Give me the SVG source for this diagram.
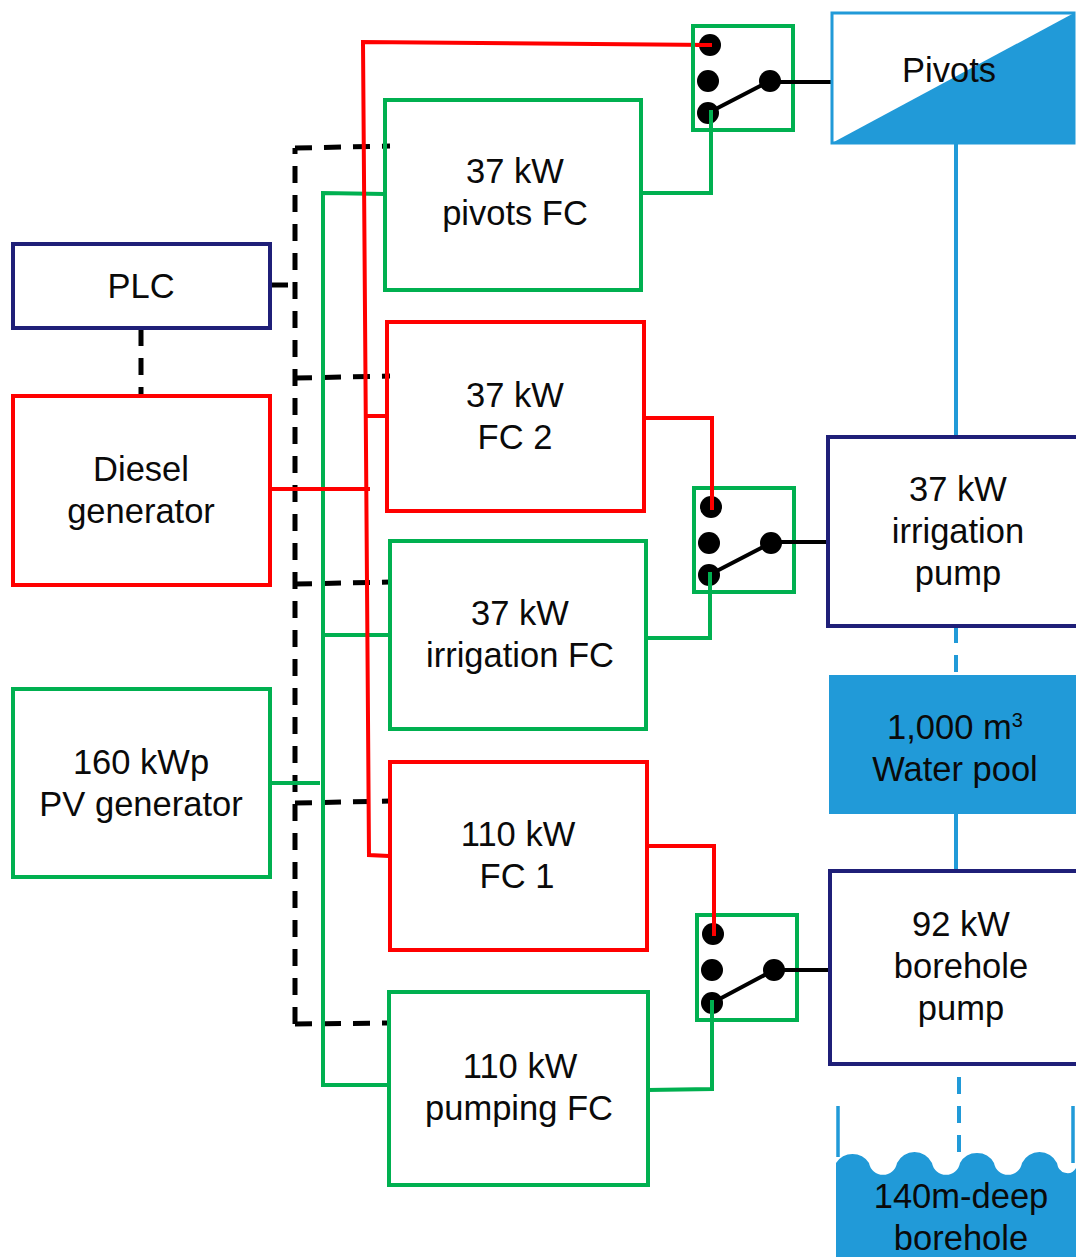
<svg xmlns="http://www.w3.org/2000/svg" width="1076" height="1257" viewBox="0 0 1076 1257">
<style>
text{font-family:"Liberation Sans",Arial,sans-serif;font-size:34.5px;fill:#0a0a0a;text-anchor:middle}
.g{fill:none;stroke:#00b050;stroke-width:4;stroke-linejoin:miter}
.gc{fill:none;stroke:#00b050;stroke-width:4}
.r{fill:none;stroke:#ff0000;stroke-width:4}
.n{fill:none;stroke:#1f1f78;stroke-width:4}
.b{fill:none;stroke:#219ad8;stroke-width:4}
.k{fill:none;stroke:#000;stroke-width:4}
.d{fill:none;stroke:#000;stroke-width:5;stroke-dasharray:17 12}
.bd{fill:none;stroke:#219ad8;stroke-width:4;stroke-dasharray:17 12}
.f{fill:#219ad8}
</style>
<rect width="1076" height="1257" fill="#fff"/>
<g id="connectors">
<path class="d" d="M295 1024V148"/>
<path class="d" d="M295 148L390 146"/>
<path class="d" d="M295 378L390 376"/>
<path class="d" d="M295 584L390 582"/>
<path class="d" d="M295 803L390 801"/>
<path class="d" d="M295 1024L390 1023"/>
<path class="d" d="M271 285H295"/>
<path class="d" d="M141 329V396"/>
<path class="gc" d="M385 194L323 193V1085H388"/>
<path class="gc" d="M321 635H390"/>
<path class="gc" d="M270 783H320"/>
<path class="r" d="M712 45L363 42L369 855L389 856"/>
<path class="r" d="M364 416H386"/>
<path class="r" d="M270 489H370"/>
<path class="b" d="M956 144V437"/>
<path class="bd" d="M956 626V675"/>
<path class="b" d="M956 814V871"/>
<path class="bd" d="M959 1077V1155"/>
</g>
<g id="sw1">
<rect class="g" x="693" y="26" width="100" height="104"/>
<path class="k" d="M708 113L770 81M770 82H831"/>
<circle cx="710" cy="45" r="11"/><circle cx="708" cy="81" r="11"/><circle cx="708" cy="113" r="11"/><circle cx="770" cy="81" r="11"/>
<path class="r" d="M696 45H712"/>
<path class="gc" d="M643 193H711V110"/>
</g>
<g id="sw2">
<rect class="g" x="694" y="488" width="100" height="104"/>
<path class="k" d="M709 575L771 543M771 542H828"/>
<circle cx="711" cy="507" r="11"/><circle cx="709" cy="543" r="11"/><circle cx="709" cy="575" r="11"/><circle cx="771" cy="543" r="11"/>
<path class="r" d="M645 418H712V510"/>
<path class="gc" d="M647 638H710V572"/>
</g>
<g id="sw3">
<rect class="g" x="697" y="915" width="100" height="105"/>
<path class="k" d="M712 1003L774 970M774 970H830"/>
<circle cx="713" cy="934" r="11"/><circle cx="712" cy="970" r="11"/><circle cx="712" cy="1003" r="11"/><circle cx="774" cy="970" r="11"/>
<path class="r" d="M647 846H714V936"/>
<path class="gc" d="M648 1090L712 1089V1000"/>
</g>
<g id="pivots">
<rect x="832" y="13" width="242" height="130" fill="#fff" stroke="#219ad8" stroke-width="3"/>
<path class="f" d="M832 143L1074 13V143Z"/>
<text x="949" y="82">Pivots</text>
</g>
<g id="plc"><rect class="n" x="13" y="244" width="257" height="84"/><text x="141" y="298">PLC</text></g>
<g id="diesel"><rect class="r" x="13" y="396" width="257" height="189"/><text x="141" y="481">Diesel</text><text x="141" y="523">generator</text></g>
<g id="pv"><rect class="g" x="13" y="689" width="257" height="188"/><text x="141" y="774">160 kWp</text><text x="141" y="816">PV generator</text></g>
<g id="fc-pivots"><rect class="g" x="385" y="100" width="256" height="190"/><text x="515" y="183">37 kW</text><text x="515" y="225">pivots FC</text></g>
<g id="fc2"><rect class="r" x="387" y="322" width="257" height="189"/><text x="515" y="407">37 kW</text><text x="515" y="449">FC 2</text></g>
<g id="fc-irrigation"><rect class="g" x="390" y="541" width="256" height="188"/><text x="520" y="625">37 kW</text><text x="520" y="667">irrigation FC</text></g>
<g id="fc1"><rect class="r" x="390" y="762" width="257" height="188"/><text x="518" y="846">110 kW</text><text x="517" y="888">FC 1</text></g>
<g id="fc-pumping"><rect class="g" x="389" y="992" width="259" height="193"/><text x="520" y="1078">110 kW</text><text x="519" y="1120">pumping FC</text></g>
<g id="irrigation-pump"><path class="n" d="M1078 437H828V626H1078"/><text x="958" y="501">37 kW</text><text x="958" y="543">irrigation</text><text x="958" y="585">pump</text></g>
<g id="pool"><rect class="f" x="829" y="675" width="247" height="139"/><text x="955" y="739">1,000 m<tspan font-size="20" dy="-12">3</tspan></text><text x="955" y="781">Water pool</text></g>
<g id="borehole-pump"><path class="n" d="M1078 871H830V1064H1078"/><text x="961" y="936">92 kW</text><text x="961" y="978">borehole</text><text x="961" y="1020">pump</text></g>
<g id="borehole">
<path class="b" d="M838 1106V1157M1073 1106V1163" style="stroke-width:3.5"/>
<path class="f" d="M836 1257V1163A19.5 19.5 0 0 1 869 1163A14.2 14.2 0 0 0 897 1163A19.5 19.5 0 0 1 932 1163A14.2 14.2 0 0 0 960 1163A19.5 19.5 0 0 1 994 1163A14.2 14.2 0 0 0 1022 1163A19.5 19.5 0 0 1 1057 1163A10.5 12 0 0 0 1076 1168V1257Z"/>
<text x="961" y="1208">140m-deep</text><text x="961" y="1250">borehole</text>
</g>
</svg>
